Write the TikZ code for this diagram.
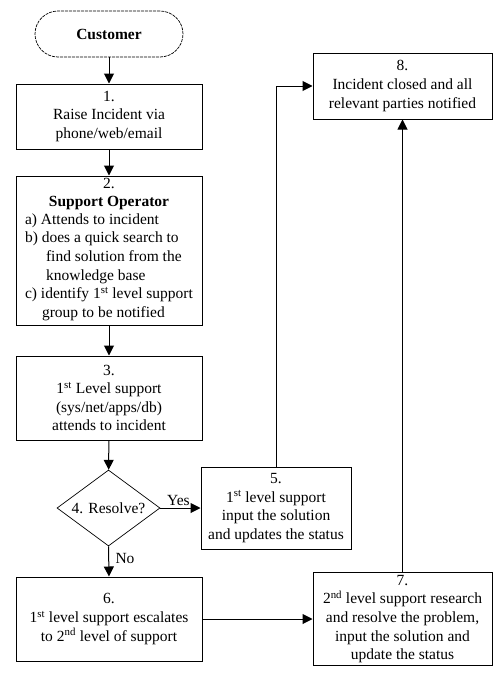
\documentclass[tikz,border=0pt]{standalone}
\usepackage{fontspec}
\setmainfont{Liberation Serif}
\usetikzlibrary{shapes.geometric, arrows.meta}
\tikzset{every node/.style={font=\fontsize{15.5}{18.6}\selectfont}}
\tikzset{box/.style={draw, line width=1pt, align=center, inner sep=0pt, minimum width=186pt},
	arr/.style={line width=1pt, -{Triangle[length=10pt, width=10pt]}},
	line/.style={line width=1pt}}

\begin{document}
\begin{tikzpicture}[x=1pt, y=-1pt]
	\useasboundingbox (0,0) rectangle (500,675);

% LEFT COLUMN

	\node[draw, line width=0.7pt, dash pattern=on 3pt off 1pt, rounded corners=23pt,
		minimum width=148pt, minimum height=46pt, inner sep=0pt, font=\fontsize{15.5}{18.6}\selectfont\bfseries]
		(cust) at (109,34) {Customer};

	\node[box, minimum height=65pt] (raise) at (109,116.5)
		{1.\\Raise Incident via\\phone/web/email};

	\node[box, minimum height=149pt] (oper) at (109,250.5)
		{2.\\\textbf{Support Operator}\\
		\begin{tabular}{@{}l@{}}
		a) Attends to incident\\
		b) does a quick search to\\
		\hspace*{21pt}find solution from the\\
		\hspace*{21pt}knowledge base\\
		c) identify 1\textsuperscript{st} level support\\
		\hspace*{17pt}group to be notified
		\end{tabular}};

	\node[box, minimum height=84pt] (first) at (109,398)
		{3.\\1\textsuperscript{st} Level support\\(sys/net/apps/db)\\attends to incident};

	\node[draw, diamond, line width=0.7pt, aspect=1.35, inner sep=0pt,
		minimum width=103pt, minimum height=76pt] (resolve) at (108.5,508) {4. Resolve?};

	\node[box, minimum height=84pt] (escal) at (109,619)
		{6.\\1\textsuperscript{st} level support escalates\\to 2\textsuperscript{nd} level of support};

% RIGHT COLUMN

	\node[box, minimum width=150pt, minimum height=82pt] (input) at (276,508)
		{5.\\1\textsuperscript{st} level support\\input the solution\\and updates the status};

	\node[box, minimum width=179pt, minimum height=93pt] (second) at (402.5,619)
		{7.\\2\textsuperscript{nd} level support research\\and resolve the problem,\\input the solution and\\update the status};

	\node[box, minimum width=179pt, minimum height=66pt] (closed) at (402.5,86)
		{8.\\Incident closed and all\\relevant parties notified};

% ARROWS

	\draw[arr] (cust) -- (raise);
	\draw[arr] (raise) -- (oper);
	\draw[arr] (oper) -- (first);
	\draw[arr] (first) -- (resolve);
	\draw[arr] (resolve.east) -- node[pos=0.45, above=-1pt] {Yes} (input.west);
	\draw[arr] (resolve.south) -- node[pos=0.4, right=3pt] {No} (escal.north);
	\draw[arr] (escal.east) -- (second.west);
	\draw[arr] (input.north) |- (closed.west);
	\draw[arr] (second.north) -- (closed.south);

\end{tikzpicture}
\end{document}
